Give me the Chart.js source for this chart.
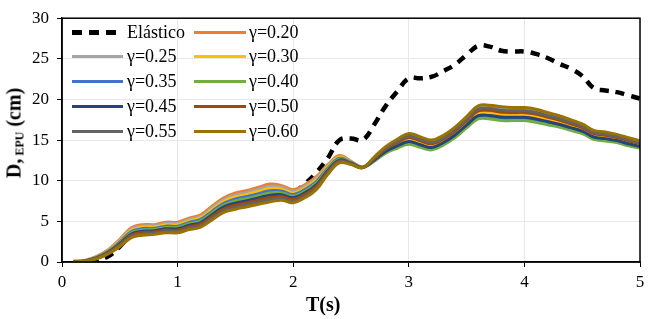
<!DOCTYPE html>
<html>
<head>
<meta charset="utf-8">
<script src="https://cdn.jsdelivr.net/npm/chart.js@4/dist/chart.umd.min.js"></script>
<style>
  html, body { margin: 0; padding: 0; background: #fff; }
  #wrap { position: relative; width: 650px; height: 319px; font-family: 'Liberation Serif', 'Times New Roman', serif; }
  canvas { position: absolute; left: 0; top: 0; }
  .leg { position: absolute; font-size: 18px; color: #000; line-height: 20px; white-space: nowrap; }
  .sw { position: absolute; height: 3px; }
  .ytitle { position: absolute; left: 15px; top: 133px; transform: translate(-50%, -50%) rotate(-90deg); font-weight: bold; font-size: 20px; white-space: nowrap; color: #000; }
  .ytitle sub { font-size: 12px; vertical-align: -3px; }
  .xtitle { position: absolute; left: 306px; top: 293px; font-weight: bold; font-size: 20px; color: #000; }
</style>
</head>
<body>
<div id="wrap">
  <canvas id="c" width="650" height="319"></canvas>
  <div class="ytitle">D,<sub> EPU</sub> (cm)</div>
  <div class="xtitle">T(s)</div>
  <div id="legend"></div>
</div>
<script>
const T = [0.1,0.2,0.3,0.4,0.5,0.6,0.7,0.8,0.9,1.0,1.1,1.2,1.3,1.4,1.5,1.6,1.7,1.8,1.9,2.0,2.1,2.2,2.3,2.4,2.5,2.6,2.7,2.8,2.9,3.0,3.1,3.2,3.3,3.4,3.5,3.6,3.7,3.8,3.9,4.0,4.1,4.2,4.3,4.4,4.5,4.6,4.7,4.8,4.9,5.0];

const elastico = [0,0.05,0.2,0.7,1.9,3.4,3.9,3.9,4.2,4.2,4.6,5.0,6.0,7.0,7.6,8.1,8.4,8.7,8.7,8.6,9.6,11.0,12.8,15.0,15.2,15.0,16.9,19.2,21.0,22.6,22.6,22.8,23.5,24.3,25.5,26.6,26.5,26.0,25.9,25.9,25.6,25.1,24.4,23.8,22.9,21.4,21.1,20.9,20.5,20.1];

const g020 = [0,0.2,0.7,1.5,2.8,4.2,4.6,4.6,4.9,4.9,5.4,5.8,6.9,7.9,8.5,8.8,9.2,9.6,9.4,8.9,9.5,10.5,12.0,13.1,12.4,11.7,
              12.65,13.8,14.55,15.15,14.75,14.4,15.0,15.95,17.2,18.4,18.45,18.25,18.2,18.2,18.0,17.65,17.3,16.85,16.4,15.65,15.45,15.2,14.8,14.45];
const g025 = [0,0.19,0.66,1.44,2.69,4.05,4.44,4.45,4.74,4.74,5.23,5.61,6.69,7.68,8.25,8.55,8.94,9.33,9.18,8.7,9.3,10.3,11.85,12.99,12.35,11.69,
              12.84,14.1,14.96,15.64,15.24,14.85,15.45,16.44,17.73,19.0,19.09,18.89,18.8,18.8,18.6,18.21,17.83,17.34,16.85,16.06,15.86,15.58,15.18,14.79];
const g030 = [0,0.18,0.63,1.38,2.58,3.9,4.28,4.3,4.58,4.58,5.05,5.43,6.48,7.45,8.0,8.3,8.68,9.05,8.95,8.5,9.1,10.1,11.7,12.88,12.3,11.68,
              12.59,13.7,14.41,14.99,14.59,14.25,14.85,15.79,17.03,18.2,18.24,18.04,18.0,18.0,17.8,17.46,17.13,16.69,16.25,15.51,15.31,15.08,14.68,14.34];
const g035 = [0,0.16,0.59,1.31,2.46,3.75,4.11,4.15,4.41,4.41,4.88,5.24,6.26,7.23,7.75,8.05,8.41,8.78,8.73,8.3,8.9,9.9,11.55,12.76,12.25,11.66,
              12.46,13.5,14.14,14.66,14.26,13.95,14.55,15.46,16.68,17.8,17.81,17.61,17.6,17.6,17.4,17.09,16.78,16.36,15.95,15.24,15.04,14.83,14.43,14.11];
const g040 = [0,0.15,0.55,1.25,2.35,3.6,3.95,4.0,4.25,4.25,4.7,5.05,6.05,7.0,7.5,7.8,8.15,8.5,8.5,8.1,8.7,9.7,11.4,12.65,12.2,11.65,
              12.4,13.4,14.0,14.5,14.1,13.8,14.4,15.3,16.5,17.6,17.6,17.4,17.4,17.4,17.2,16.9,16.6,16.2,15.8,15.1,14.9,14.7,14.3,14.0];
const g045 = [0,0.14,0.51,1.19,2.24,3.45,3.79,3.85,4.09,4.09,4.53,4.86,5.84,6.78,7.25,7.55,7.89,8.23,8.28,7.9,8.5,9.5,11.25,12.54,12.15,11.64,
              12.53,13.6,14.28,14.83,14.43,14.1,14.7,15.63,16.85,18.0,18.03,17.83,17.8,17.8,17.6,17.28,16.95,16.53,16.1,15.38,15.18,14.95,14.55,14.23];
const g050 = [0,0.13,0.48,1.13,2.13,3.3,3.63,3.7,3.93,3.93,4.35,4.68,5.63,6.55,7.0,7.3,7.63,7.95,8.05,7.7,8.3,9.3,11.1,12.43,12.1,11.63,
              12.71,13.9,14.69,15.31,14.91,14.55,15.15,16.11,17.38,18.6,18.66,18.46,18.4,18.4,18.2,17.84,17.48,17.01,16.55,15.79,15.59,15.33,14.93,14.56];
const g055 = [0,0.11,0.44,1.06,2.01,3.15,3.46,3.55,3.76,3.76,4.18,4.49,5.41,6.33,6.75,7.05,7.36,7.68,7.83,7.5,8.1,9.1,10.95,12.31,12.05,11.61,
              12.78,14.0,14.83,15.48,15.08,14.7,15.3,16.28,17.55,18.8,18.88,18.68,18.6,18.6,18.4,18.03,17.65,17.18,16.7,15.93,15.73,15.45,15.05,14.68];
const g060 = [0,0.1,0.4,1.0,1.9,3.0,3.3,3.4,3.6,3.6,4.0,4.3,5.2,6.1,6.5,6.8,7.1,7.4,7.6,7.3,7.9,8.9,10.8,12.2,12.0,11.6,
              12.9,14.2,15.1,15.8,15.4,15.0,15.6,16.6,17.9,19.2,19.3,19.1,19.0,19.0,18.8,18.4,18.0,17.5,17.0,16.2,16.0,15.7,15.3,14.9];

const seriesNames = ['Elástico','γ=0.20','γ=0.25','γ=0.30','γ=0.35','γ=0.40','γ=0.45','γ=0.50','γ=0.55','γ=0.60'];
const seriesValues = [elastico,g020,g025,g030,g035,g040,g045,g050,g055,g060];
const seriesColors = ['#000000','#ED7D31','#A5A5A5','#FFC000','#4472C4','#70AD47','#264478','#9E480E','#636363','#997300'];

const xTicks = [0,1,2,3,4,5];
const yTicks = [0,5,10,15,20,25,30];

const datasets = seriesNames.map((name, i) => ({
  label: name,
  data: T.map((t, j) => ({x: t, y: seriesValues[i][j]})),
  borderColor: seriesColors[i],
  backgroundColor: seriesColors[i],
  borderWidth: i === 0 ? 4.5 : 3,
  borderDash: i === 0 ? [9, 7] : [],
  order: i === 0 ? 0 : 20 - i,
  pointRadius: 0,
  tension: 0.4,
  fill: false
}));
// draw order: lower "order" on top; elastic underneath the band is wanted
datasets[0].order = 100;

const boxPlugin = {
  id: 'box',
  afterDraw(chart) {
    const {ctx, chartArea: a} = chart;
    ctx.save();
    ctx.strokeStyle = '#000';
    ctx.lineWidth = 1.5;
    ctx.strokeRect(a.left, a.top, a.right - a.left, a.bottom - a.top);
    ctx.restore();
  }
};

new Chart(document.getElementById('c'), {
  type: 'line',
  data: { datasets },
  options: {
    responsive: false,
    animation: false,
    layout: { padding: { left: 0, top: 10, right: 10, bottom: 0 } },
    plugins: { legend: { display: false }, tooltip: { enabled: false } },
    scales: {
      x: {
        type: 'linear', min: xTicks[0], max: xTicks[xTicks.length - 1],
        afterBuildTicks: s => { s.ticks = xTicks.map(v => ({value: v})); },
        afterFit: s => { s.height = 57; },
        ticks: { color: '#000', font: { family: "'Liberation Serif'", size: 17 }, padding: 5, maxRotation: 0 },
        grid: { color: '#E8E8E8', lineWidth: 1, tickColor: '#000', tickLength: 5, drawTicks: true },
        border: { color: '#000', width: 1.5 }
      },
      y: {
        type: 'linear', min: yTicks[0], max: yTicks[yTicks.length - 1],
        afterBuildTicks: s => { s.ticks = yTicks.map(v => ({value: v})); },
        afterFit: s => { s.width = 62; },
        ticks: { color: '#000', font: { family: "'Liberation Serif'", size: 17 }, padding: 8 },
        grid: { color: '#E8E8E8', lineWidth: 1, tickColor: '#000', tickLength: 5 },
        border: { color: '#000', width: 1.5 }
      }
    }
  },
  plugins: [boxPlugin]
});

// Legend (two columns, five rows, inside the plot)
const legend = document.getElementById('legend');
const colX = [[72, 123, 127], [194, 246, 249]];
const rowY = [32, 56, 81, 106, 131];
seriesNames.forEach((name, i) => {
  const col = i % 2, row = Math.floor(i / 2);
  const [x0, x1, tx] = colX[col];
  const y = rowY[row];
  const sw = document.createElement('div');
  sw.className = 'sw';
  sw.style.left = x0 + 'px';
  sw.style.width = (x1 - x0) + 'px';
  if (i === 0) {
    sw.style.height = '5px';
    sw.style.top = (y - 2.5) + 'px';
    sw.style.background = 'repeating-linear-gradient(to right, #000 0 10px, transparent 10px 17px)';
  } else {
    sw.style.top = (y - 1.5) + 'px';
    sw.style.background = seriesColors[i];
  }
  legend.appendChild(sw);
  const t = document.createElement('div');
  t.className = 'leg';
  t.style.left = tx + 'px';
  t.style.top = (y - 10) + 'px';
  t.textContent = name;
  legend.appendChild(t);
});
</script>
</body>
</html>
